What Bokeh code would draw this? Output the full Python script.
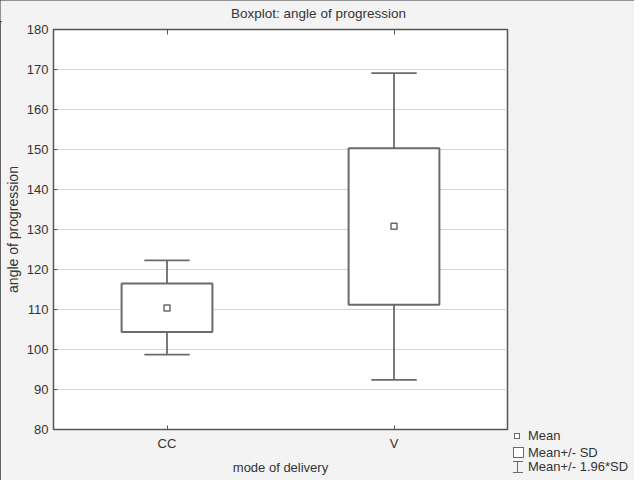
from bokeh.plotting import figure
from bokeh.layouts import column, row
from bokeh.models import (FactorRange, Range1d, FixedTicker, CategoricalAxis,
                          ColumnDataSource, Div)
from bokeh.transform import dodge
from bokeh.core.properties import value
from bokeh.embed import file_html
from bokeh.resources import INLINE

# ---- data ----
categories = ["CC", "V"]
means = [110.4, 130.8]
sd_low = [104.4, 111.2]
sd_high = [116.5, 150.3]
ci_low = [98.7, 92.4]
ci_high = [122.3, 169.1]
y_ticks = [80, 90, 100, 110, 120, 130, 140, 150, 160, 170, 180]
legend_labels = ["Mean", "Mean+/- SD", "Mean+/- 1.96*SD"]
title_text = "Boxplot: angle of progression"

FONT = "Liberation Sans"
TXT = "#333333"
LINE = "#6a6a6a"
BG = "#f3f3f3"

TOTAL_W, TOTAL_H = 634, 480
TITLE_H = 21
MAIN_W = 510
MAIN_H = TOTAL_H - TITLE_H
LEG_W = TOTAL_W - MAIN_W

# ---------------- title strip ----------------
tf = figure(width=TOTAL_W, height=TITLE_H, x_range=Range1d(0, TOTAL_W),
            y_range=Range1d(TITLE_H, 0), output_backend="svg",
            toolbar_location=None, title=None, x_axis_type=None,
            y_axis_type=None, min_border=0)
tf.min_border_left = tf.min_border_right = 0
tf.min_border_top = tf.min_border_bottom = 0
tf.grid.visible = False
tf.outline_line_color = None
tf.background_fill_color = BG
tf.border_fill_color = BG
tf.text(x=[318], y=[12.5], text=[title_text], text_align="center",
        text_baseline="middle", text_font=value(FONT), text_font_size="13.5px",
        text_color=TXT)

# ---------------- main plot ----------------
p = figure(width=MAIN_W, height=MAIN_H, x_range=FactorRange(*categories),
           y_range=Range1d(80, 180), output_backend="svg",
           toolbar_location=None, title=None,
           min_border_left=53, min_border_right=3,
           min_border_top=8, min_border_bottom=51)
p.background_fill_color = "white"
p.border_fill_color = BG
p.outline_line_color = "#555555"
p.outline_line_width = 1.5

p.yaxis.ticker = FixedTicker(ticks=y_ticks)
for ax in (p.xaxis[0], p.yaxis[0]):
    ax.axis_line_color = None
    ax.major_tick_in = 4
    ax.major_tick_out = 0
    ax.minor_tick_line_color = None
    ax.major_tick_line_color = "#555555"
    ax.major_label_text_font = FONT
    ax.major_label_text_font_size = "13px"
    ax.major_label_text_color = TXT
    ax.axis_label_text_font = FONT
    ax.axis_label_text_font_size = "13px"
    ax.axis_label_text_font_style = "normal"
    ax.axis_label_text_color = TXT
p.yaxis.major_label_standoff = 5
p.yaxis.axis_label = "angle of progression"
p.yaxis.axis_label_text_font_size = "14px"
p.yaxis.axis_label_standoff = 3
p.xaxis.major_label_standoff = 6
p.xaxis.axis_label = "mode of delivery"
p.xaxis.axis_label_standoff = 6

top_ax = CategoricalAxis(axis_line_color=None, major_tick_in=5, major_tick_out=0,
                         major_tick_line_color="#555555",
                         major_label_text_color=None,
                         major_label_text_font_size="1px",
                         major_label_standoff=0,
                         minor_tick_line_color=None)
p.add_layout(top_ax, "above")

p.xgrid.grid_line_color = None
p.ygrid.grid_line_color = "#d4d4d4"
p.ygrid.grid_line_width = 1

src = ColumnDataSource(dict(x=categories, mean=means, sdl=sd_low, sdh=sd_high,
                            cil=ci_low, cih=ci_high))
p.segment(x0="x", x1="x", y0="sdh", y1="cih", source=src, line_color=LINE, line_width=1.8)
p.segment(x0="x", x1="x", y0="sdl", y1="cil", source=src, line_color=LINE, line_width=1.8)
xl = dodge("x", -0.1, range=p.x_range)
xr = dodge("x", 0.1, range=p.x_range)
p.segment(x0=xl, x1=xr, y0="cih", y1="cih", source=src, line_color=LINE, line_width=1.8)
p.segment(x0=xl, x1=xr, y0="cil", y1="cil", source=src, line_color=LINE, line_width=1.8)
p.vbar(x="x", width=0.4, bottom="sdl", top="sdh", source=src,
       fill_color="white", line_color=LINE, line_width=2)
p.scatter(x="x", y="mean", source=src, marker="square", size=6,
          fill_color="white", line_color=LINE, line_width=1.5)

# ---------------- legend strip (HTML, right of the plot) ----------------
off = 29 - TITLE_H            # strip starts below the title strip
rows_y = [407 + off, 423.5 + off, 438 + off]

def box(left, top, w, h, extra=""):
    return (f'<div style="position:absolute;left:{left}px;top:{top}px;width:{w}px;'
            f'height:{h}px;box-sizing:border-box;{extra}"></div>')

sym = []
sym.append(box(4, rows_y[0] - 3, 6, 6, f"border:1px solid {LINE};background:white;"))
sym.append(box(2.5, rows_y[1] - 5.5, 11, 11, f"border:1px solid {LINE};background:white;"))
cy = rows_y[2]
sym.append(box(2.7, cy - 6, 10, 1, f"background:{LINE};"))
sym.append(box(7.2, cy - 6, 1, 12, f"background:{LINE};"))
sym.append(box(2.7, cy + 5, 10, 1, f"background:{LINE};"))
texts = [
    (f'<div style="position:absolute;left:18px;top:{y - 8}px;height:16px;'
     f'line-height:16px;white-space:nowrap;">{lab}</div>')
    for lab, y in zip(legend_labels, rows_y)
]
html = (f'<div style="position:relative;width:{LEG_W}px;height:{MAIN_H}px;'
        f'background:{BG};font-family:\'{FONT}\';font-size:13px;color:{TXT};">'
        + "".join(sym) + "".join(texts) + "</div>")
leg = Div(text=html, width=LEG_W, height=MAIN_H,
          styles={"background-color": BG, "margin": "0", "padding": "0"})

layout = column(tf, row(p, leg, spacing=0), spacing=0)
layout.styles = {"outline": "2px solid #333333", "outline-offset": "-2px",
                 "background-color": BG}

open("out.html", "w").write(file_html(layout, INLINE))
